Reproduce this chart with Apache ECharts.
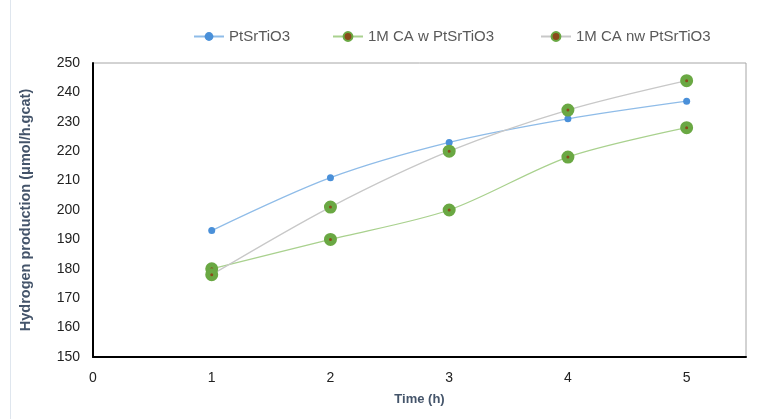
<!DOCTYPE html>
<html><head><meta charset="utf-8">
<script src="https://cdn.jsdelivr.net/npm/echarts@6/dist/echarts.min.js"></script>
<style>html,body{margin:0;padding:0;background:#fff}#c{width:759px;height:419px}</style>
</head><body><div id="c"></div>
<script>
var times = [1, 2, 3, 4, 5];
var seriesNames = ['PtSrTiO3', '1M CA w PtSrTiO3', '1M CA nw PtSrTiO3'];
var ptSrTiO3 = [193, 211, 223, 231, 237];
var caW = [180, 190, 200, 218, 228];
var caNw = [178, 201, 220, 234, 244];
var yTicks = [150, 160, 170, 180, 190, 200, 210, 220, 230, 240, 250];

function pairs(vals){ return times.map(function(t,i){ return [t, vals[i]]; }); }
var chart = echarts.init(document.getElementById('c'));
var greenMarker = { color: '#8a4a1a', borderColor: '#6aa843', borderWidth: 5 };
var legendText = { fontFamily: 'Liberation Sans', fontSize: 15, color: '#595959' };
var legendLefts = [188, 327, 535];
chart.setOption({
  animation: false,
  graphic: [{ type: 'line', shape: { x1: 10.5, y1: 0, x2: 10.5, y2: 419 }, style: { stroke: '#dfe6ee', lineWidth: 1 } }],
  legend: seriesNames.map(function(n, i){
    return { data: [n], top: 24, left: legendLefts[i], itemWidth: 30, itemHeight: 11, textStyle: legendText };
  }),
  grid: { left: 93, right: 13, top: 63, bottom: 62, show: true, borderColor: '#a6a6a6', borderWidth: 1 },
  xAxis: {
    type: 'value', min: 0, max: 5.5, interval: 1,
    name: 'Time (h)', nameLocation: 'middle', nameGap: 36,
    nameTextStyle: { fontFamily: 'Liberation Sans', fontSize: 13, fontWeight: 'bold', color: '#44546a' },
    axisLine: { show: true, lineStyle: { color: '#000', width: 2 } },
    axisTick: { show: false }, splitLine: { show: false },
    axisLabel: { showMaxLabel: false, margin: 14, fontFamily: 'Liberation Sans', fontSize: 14, color: '#222' }
  },
  yAxis: {
    type: 'value', min: yTicks[0], max: yTicks[yTicks.length-1], interval: 10,
    name: 'Hydrogen production (μmol/h.gcat)', nameLocation: 'middle', nameGap: 60,
    nameTextStyle: { fontFamily: 'Liberation Sans', fontSize: 14.5, fontWeight: 'bold', color: '#44546a' },
    axisLine: { show: true, lineStyle: { color: '#000', width: 2 } },
    axisTick: { show: false }, splitLine: { show: false },
    axisLabel: { margin: 13, fontFamily: 'Liberation Sans', fontSize: 14, color: '#222' }
  },
  series: [
    { name: seriesNames[0], type: 'line', smooth: 0.3, data: pairs(ptSrTiO3),
      symbol: 'circle', symbolSize: 7, lineStyle: { color: '#8fbce8', width: 1.3 },
      itemStyle: { color: '#4a90d9' } },
    { name: seriesNames[1], type: 'line', smooth: 0.3, data: pairs(caW),
      symbol: 'circle', symbolSize: 8, lineStyle: { color: '#a9d18e', width: 1.3 },
      itemStyle: greenMarker },
    { name: seriesNames[2], type: 'line', smooth: 0.3, data: pairs(caNw),
      symbol: 'circle', symbolSize: 8, lineStyle: { color: '#c8c8c8', width: 1.3 },
      itemStyle: greenMarker }
  ]
});
</script></body></html>
